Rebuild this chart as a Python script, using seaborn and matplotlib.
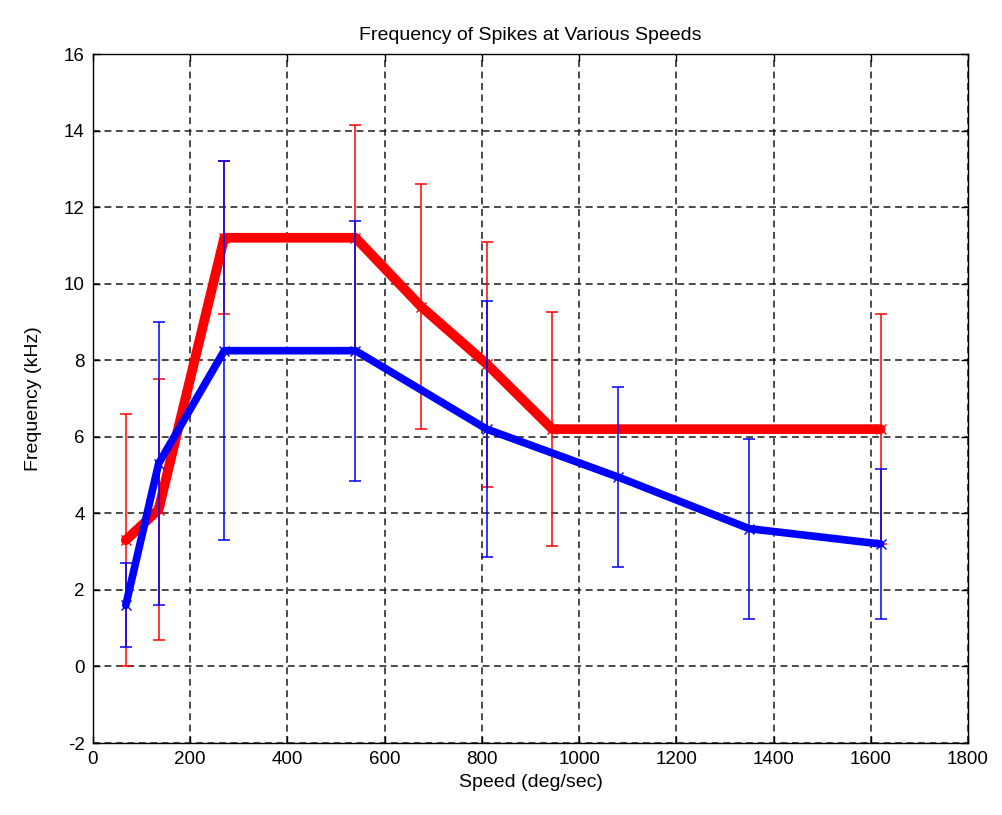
import numpy as np
import pandas as pd
import matplotlib
matplotlib.use('Agg')
import matplotlib.pyplot as plt
import seaborn as sns

# Red series
red_speed = [67.5, 135, 270, 540, 675, 810, 945, 1620]
red_freq = [3.3, 4.1, 11.2, 11.2, 9.4, 7.9, 6.2, 6.2]
red_err = [3.3, 3.4, 2.0, 2.95, 3.2, 3.2, 3.05, 3.0]

# Blue series
blue_speed = [67.5, 135, 270, 540, 810, 1080, 1350, 1620]
blue_freq = [1.6, 5.3, 8.25, 8.25, 6.2, 4.95, 3.6, 3.2]
blue_err = [1.1, 3.7, 4.95, 3.4, 3.35, 2.35, 2.35, 1.95]

sns.set_theme(style='white')
plt.rcParams['font.family'] = ['Liberation Sans', 'DejaVu Sans']
plt.rcParams['axes.unicode_minus'] = False
plt.rcParams['text.color'] = 'black'
plt.rcParams['axes.labelcolor'] = 'black'

fig = plt.figure(figsize=(10.02, 8.15), dpi=100)
ax = fig.add_axes([0.0928, 0.0883, 0.8733, 0.8454])

for speed, freq, err, col, lw in [(red_speed, red_freq, red_err, '#ff0000', 7),
                                  (blue_speed, blue_freq, blue_err, '#0000ff', 5.5)]:
    df = pd.DataFrame({'speed': speed, 'freq': freq})
    ax.errorbar(speed, freq, yerr=err, fmt='none', ecolor=col,
                elinewidth=1.1, capsize=4.5, capthick=1.1)
    sns.lineplot(ax=ax, data=df, x='speed', y='freq', color=col,
                 linewidth=lw, marker='x', markersize=7,
                 markeredgecolor=col, markeredgewidth=1, sort=False)

ax.set(xlim=(0, 1800), ylim=(-2, 16))
ax.set_xticks(np.arange(0, 1801, 200))
ax.set_yticks(np.arange(-2, 17, 2))
ax.grid(True, color='#1a1a1a', linestyle=(0, (4.5, 3)), linewidth=1.1)
ax.tick_params(direction='in', length=5, width=1, top=True, right=True,
               labelsize=13.5, colors='black', pad=6,
               bottom=True, left=True)
for s in ax.spines.values():
    s.set_color('black')
    s.set_linewidth(1)

ax.set_title('Frequency of Spikes at Various Speeds', fontsize=14, pad=10, color='black')
ax.set_xlabel('Speed (deg/sec)', fontsize=14, labelpad=4)
ax.set_ylabel('Frequency (kHz)', fontsize=14, labelpad=16)

fig.savefig('out.png', dpi=100, facecolor='white')
plt.close()
